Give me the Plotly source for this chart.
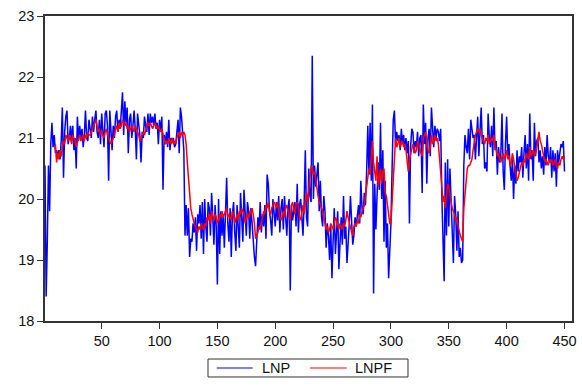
import plotly.graph_objects as go

# LNP observations, index 1..450
LNP = [
    20.55, 18.40, 19.30, 20.55, 19.80, 20.90, 21.25, 20.85, 21.05, 20.75,
    20.80, 20.70, 20.80, 20.65, 20.95, 21.50, 20.35, 21.10, 21.35, 21.45,
    20.90, 21.00, 21.20, 20.95, 21.20, 20.80, 21.00, 20.50, 21.35, 20.95,
    21.20, 21.00, 21.15, 20.85, 21.05, 21.45, 21.00, 20.95, 21.30, 21.10,
    21.00, 21.35, 21.10, 21.30, 21.45, 21.10, 21.00, 21.30, 20.90, 21.40,
    21.05, 20.85, 21.40, 21.45, 21.20, 20.30, 21.45, 21.15, 20.80, 21.20,
    21.00, 21.35, 21.45, 21.10, 21.30, 21.15, 21.40, 21.75, 21.05, 21.60,
    21.25, 21.50, 20.75, 21.30, 21.40, 21.00, 21.20, 21.45, 21.15, 20.65,
    21.40, 21.20, 21.05, 20.60, 21.10, 21.00, 21.35, 21.20, 21.10, 21.40,
    21.05, 21.40, 21.25, 21.35, 21.20, 21.40, 21.15, 21.25, 20.90, 21.30,
    21.10, 21.35, 20.15, 21.05, 20.90, 21.10, 20.85, 21.30, 20.80, 21.00,
    20.95, 21.00, 20.85, 20.90, 21.15, 21.30, 20.75, 21.50, 21.35, 21.10,
    20.80, 19.40, 19.90, 19.40, 19.85, 19.05, 19.35, 19.30, 19.60, 19.45,
    19.70, 19.15, 19.75, 19.60, 19.90, 19.35, 19.95, 19.10, 20.00, 19.55,
    19.30, 19.95, 19.85, 19.40, 20.10, 19.70, 19.25, 19.90, 19.55, 18.60,
    20.00, 19.10, 19.80, 19.40, 19.75, 19.20, 20.05, 20.35, 19.60, 19.30,
    19.85, 19.05, 19.75, 19.95, 19.45, 19.15, 19.90, 19.60, 19.20, 20.10,
    19.55, 19.30, 20.15, 19.70, 19.40, 19.95, 19.80, 19.35, 19.85, 19.60,
    19.30, 19.05, 18.90, 19.45, 19.70, 19.50, 19.95, 19.45, 19.75, 19.55,
    19.90, 19.35, 20.40, 20.25, 19.80, 19.65, 19.40, 20.00, 19.75, 19.55,
    19.95, 19.65, 20.05, 19.45, 19.85, 20.00, 19.50, 20.05, 19.70, 19.40,
    19.85, 20.00, 18.50, 19.90, 19.65, 19.80, 19.95, 19.55, 20.25, 19.45,
    19.90, 20.00, 19.60, 19.40, 19.95, 20.80, 19.70, 19.55, 20.50, 20.05,
    19.95, 22.35, 20.00, 20.55, 20.20, 20.45, 20.60, 19.80, 20.30, 19.70,
    19.55, 20.05, 19.80, 19.20, 19.60, 19.40, 19.00, 19.55, 18.70, 19.30,
    19.85, 19.10, 19.60, 19.80, 18.85, 19.40, 19.70, 19.25, 20.05, 19.35,
    19.55, 18.95, 19.20, 19.60, 20.05, 19.55, 19.25, 19.40, 19.70, 19.55,
    19.75, 19.90, 19.60, 20.30, 19.85, 19.75, 20.10, 19.90, 20.45, 21.20,
    20.40, 21.25, 20.30, 21.55, 18.45, 20.25, 19.50, 19.95, 20.60, 20.15,
    21.25, 20.00, 20.80, 19.30, 20.30, 19.20, 19.60, 18.70, 19.10, 19.60,
    20.50, 21.30, 21.45, 20.90, 21.10, 20.95, 21.05, 20.80, 21.15, 20.90,
    21.05, 20.80, 21.00, 20.75, 20.95, 19.60, 20.85, 21.15, 21.10, 20.75,
    20.95, 20.85, 21.10, 20.70, 21.00, 21.05, 20.10, 21.55, 20.90, 21.25,
    20.25, 21.00, 21.15, 20.70, 21.50, 21.05, 20.85, 21.20, 21.00, 21.15,
    21.10, 20.95, 21.15, 20.05, 19.45, 18.65, 20.60, 19.40, 20.65, 19.55,
    20.50, 19.90, 19.35, 18.95, 20.05, 19.75, 19.15, 19.80, 19.05, 19.20,
    18.95, 19.00, 20.55, 21.05, 20.85, 20.75, 21.15, 20.65, 21.30, 21.15,
    21.00, 21.05, 20.65, 21.00, 21.35, 20.70, 21.10, 21.50, 20.90, 21.05,
    20.50, 20.60, 20.45, 21.40, 21.00, 20.85, 21.20, 20.70, 21.50, 20.80,
    20.95, 20.40, 20.85, 20.60, 20.75, 21.40, 20.45, 20.15, 20.90, 21.35,
    20.70, 20.90, 20.55, 20.30, 20.65, 20.00, 20.55, 20.25, 20.80, 20.45,
    20.70, 20.60, 20.85, 20.35, 20.75, 21.05, 20.50, 20.90, 20.30, 21.40,
    20.65, 20.80, 20.30, 21.25, 20.70, 20.95, 21.00, 20.60, 20.80, 20.50,
    20.70, 20.40, 20.85, 20.55, 21.05, 20.70, 20.60, 20.85, 20.35, 20.80,
    20.45, 20.75, 20.20, 20.80, 20.60, 20.75, 20.90, 20.85, 20.95, 20.45,
]
LNP_START = 1

# LNPF fitted values, index 10..450
LNPF = [
    20.90, 20.60, 20.75, 20.65, 20.80, 20.70, 20.85, 20.95, 20.90, 21.05,
    21.00, 20.95, 21.05, 21.00, 20.90, 21.05, 21.00, 20.95, 20.85, 20.95,
    21.00, 21.05, 20.95, 21.00, 21.05, 20.95, 21.05, 21.00, 21.10, 21.05,
    21.05, 21.10, 21.15, 21.20, 21.25, 21.30, 21.20, 21.10, 21.15, 21.05,
    21.10, 21.05, 21.00, 21.10, 21.15, 21.05, 21.00, 20.95, 20.90, 20.95,
    21.00, 21.05, 21.15, 21.20, 21.10, 21.25, 21.15, 21.20, 21.30, 21.25,
    21.20, 21.25, 21.15, 21.20, 21.10, 21.15, 21.20, 21.15, 21.10, 21.20,
    21.15, 21.10, 21.05, 20.95, 21.00, 21.05, 21.10, 21.05, 21.15, 21.20,
    21.25, 21.20, 21.25, 21.20, 21.15, 21.20, 21.25, 21.20, 21.15, 21.20,
    21.15, 21.10, 21.15, 21.05, 20.95, 20.90, 20.95, 20.90, 21.00, 20.95,
    20.90, 21.00, 20.90, 20.95, 20.90, 21.00, 21.05, 21.10, 21.00, 21.10,
    21.05, 21.10, 21.05, 20.90, 20.60, 20.30, 20.05, 19.85, 19.75, 19.65,
    19.60, 19.55, 19.50, 19.45, 19.55, 19.50, 19.60, 19.55, 19.50, 19.60,
    19.55, 19.70, 19.65, 19.75, 19.60, 19.80, 19.70, 19.65, 19.75, 19.70,
    19.60, 19.65, 19.75, 19.70, 19.80, 19.70, 19.75, 19.80, 19.85, 19.70,
    19.75, 19.70, 19.65, 19.80, 19.75, 19.60, 19.70, 19.75, 19.65, 19.80,
    19.75, 19.85, 19.80, 19.75, 19.60, 19.70, 19.75, 19.70, 19.80, 19.75,
    19.85, 19.75, 19.60, 19.35, 19.40, 19.45, 19.55, 19.50, 19.60, 19.70,
    19.80, 19.75, 19.90, 19.85, 19.95, 19.80, 19.75, 19.85, 19.90, 19.95,
    19.90, 19.85, 19.95, 19.80, 19.70, 19.65, 19.75, 19.80, 19.70, 19.85,
    19.90, 19.80, 19.75, 19.65, 19.90, 19.95, 19.85, 19.75, 19.90, 19.95,
    19.90, 19.70, 19.65, 19.80, 19.90, 19.75, 20.00, 20.10, 19.95, 20.15,
    20.40, 20.55, 20.50, 20.40, 20.45, 20.30, 20.15, 20.05, 19.95, 19.90,
    19.85, 19.80, 19.70, 19.60, 19.50, 19.55, 19.45, 19.50, 19.60, 19.55,
    19.50, 19.60, 19.70, 19.65, 19.55, 19.50, 19.60, 19.55, 19.50, 19.60,
    19.55, 19.65, 19.80, 19.70, 19.60, 19.50, 19.45, 19.40, 19.55, 19.60,
    19.55, 19.65, 19.60, 19.75, 19.70, 19.80, 19.85, 19.90, 20.05, 20.20,
    20.35, 20.50, 20.40, 20.70, 20.95, 20.60, 20.45, 20.30, 20.70, 20.20,
    20.35, 20.50, 20.25, 20.45, 20.50, 20.10, 20.05, 19.90, 19.75, 19.60,
    19.60, 20.00, 20.40, 20.80, 21.00, 20.85, 20.90, 21.00, 20.85, 20.90,
    20.95, 20.85, 20.90, 20.80, 20.60, 20.45, 20.65, 20.75, 20.80, 20.90,
    20.85, 20.75, 20.80, 20.95, 20.90, 20.80, 20.75, 20.70, 21.00, 21.05,
    21.10, 20.95, 20.80, 20.75, 20.85, 21.05, 20.90, 20.95, 21.05, 20.95,
    21.00, 20.90, 20.70, 20.50, 20.20, 19.95, 20.05, 19.85, 20.10, 20.25,
    20.20, 20.05, 19.95, 19.85, 19.80, 19.75, 19.65, 19.70, 19.55, 19.45,
    19.40, 19.35, 19.30, 19.85, 20.10, 20.40, 20.50, 20.55, 20.55, 20.60,
    20.65, 20.80, 20.95, 21.05, 21.10, 21.15, 21.10, 21.15, 21.05, 21.00,
    20.95, 20.90, 21.00, 20.95, 21.05, 20.90, 20.95, 21.00, 20.95, 21.05,
    20.85, 20.80, 20.70, 20.75, 20.65, 20.60, 20.70, 20.75, 20.65, 20.70,
    20.80, 20.65, 20.70, 20.55, 20.60, 20.75, 20.65, 20.55, 20.45, 20.30,
    20.35, 20.45, 20.50, 20.60, 20.55, 20.65, 20.60, 20.75, 20.70, 20.65,
    20.85, 20.70, 20.75, 20.80, 20.70, 20.75, 20.85, 21.00, 21.10, 20.95,
    20.90, 20.80, 20.70, 20.60, 20.65, 20.60, 20.55, 20.65, 20.60, 20.65,
    20.55, 20.60, 20.65, 20.55, 20.50, 20.60, 20.55, 20.65, 20.70, 20.65, 20.70,
]
LNPF_START = 10

SERIES_NAMES = ["LNP", "LNPF"]
SERIES_COLORS = ["#0000FF", "#FF0000"]
X_TICKS = [50, 100, 150, 200, 250, 300, 350, 400, 450]
Y_TICKS = [18, 19, 20, 21, 22, 23]

x_lnp = list(range(LNP_START, LNP_START + len(LNP)))
x_lnpf = list(range(LNPF_START, LNPF_START + len(LNPF)))

FONT = "Liberation Sans, Arial, sans-serif"

fig = go.Figure()
fig.add_trace(go.Scatter(x=x_lnp, y=LNP, mode="lines", name=SERIES_NAMES[0],
                         line=dict(color=SERIES_COLORS[0], width=1.5)))
fig.add_trace(go.Scatter(x=x_lnpf, y=LNPF, mode="lines", name=SERIES_NAMES[1],
                         line=dict(color=SERIES_COLORS[1], width=1.5)))

axis_common = dict(showgrid=False, zeroline=False, showline=True, automargin=False,
                   linecolor="#333333", linewidth=1.5, mirror=True,
                   ticks="outside", ticklen=6, tickwidth=1, tickcolor="#333333",
                   tickfont=dict(family=FONT, size=14.5, color="#111111"))

fig.update_xaxes(range=[1, 456.5], tickvals=X_TICKS,
                 ticktext=[str(v) for v in X_TICKS], **axis_common)
fig.update_yaxes(range=[18, 23], tickvals=Y_TICKS,
                 ticktext=[str(v) for v in Y_TICKS], **axis_common)

# Compact boxed legend below the plot (paper coordinates)
box = dict(x0=0.3093, x1=0.6888, y0=-0.1836, y1=-0.1246)
ly = (box["y0"] + box["y1"]) / 2
samples = [(0.3258, 0.3941, 0.408), (0.5028, 0.5725, 0.5844)]
shapes = [dict(type="rect", xref="paper", yref="paper", line=dict(color="#333333", width=1),
               fillcolor="white", layer="above", **box)]
annotations = []
for (sx0, sx1, tx), name, color in zip(samples, SERIES_NAMES, SERIES_COLORS):
    shapes.append(dict(type="line", xref="paper", yref="paper", x0=sx0, x1=sx1, y0=ly, y1=ly,
                       line=dict(color=color, width=1.2)))
    annotations.append(dict(xref="paper", yref="paper", x=tx, y=ly, xanchor="left",
                            yanchor="middle", text=name, showarrow=False,
                            font=dict(family=FONT, size=14.5, color="#111111")))

fig.update_layout(
    width=582, height=391,
    margin=dict(l=45, r=10, t=16, b=70, autoexpand=False),
    paper_bgcolor="white", plot_bgcolor="white",
    font=dict(family=FONT, size=14.5, color="#111111"),
    showlegend=False,
    shapes=shapes, annotations=annotations,
)

fig.write_html("out.html", config={"displayModeBar": False},
               post_script="document.body.style.margin='0';document.body.style.padding='0';")
